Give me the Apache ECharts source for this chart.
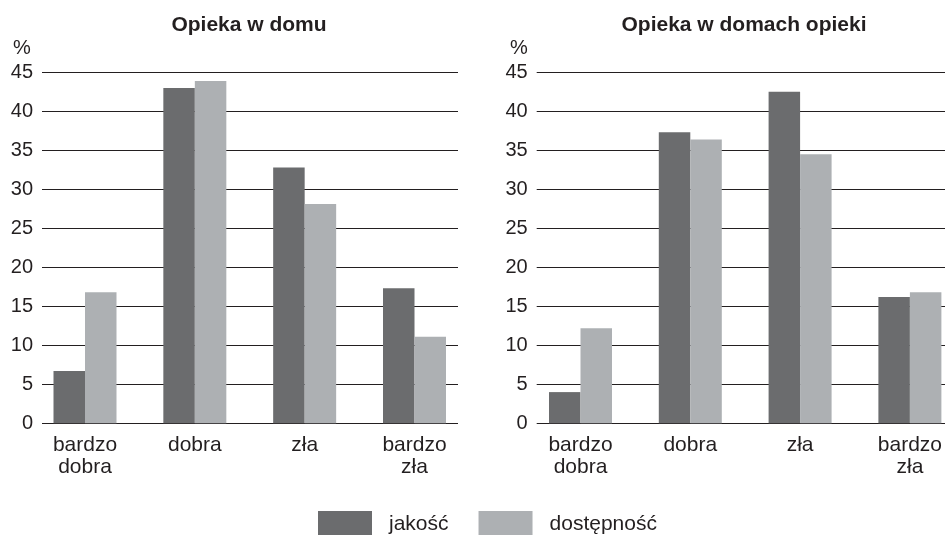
<!DOCTYPE html>
<html>
<head>
<meta charset="utf-8">
<script src="https://cdn.jsdelivr.net/npm/echarts@6/dist/echarts.min.js"></script>
<style>html,body{margin:0;padding:0;background:#fff;}#c{width:945px;height:535px;}</style>
</head>
<body>
<div id="c"></div>
<script>
const categories = ['bardzo\ndobra', 'dobra', 'zła', 'bardzo\nzła'];
const titles = ['Opieka w domu', 'Opieka w domach opieki'];
const seriesNames = ['jakość', 'dostępność'];
const homeQuality = [6.7, 43.0, 32.8, 17.3];
const homeAccess = [16.8, 43.9, 28.1, 11.1];
const careQuality = [4.0, 37.3, 42.5, 16.2];
const careAccess = [12.2, 36.4, 34.5, 16.8];
const yMin = 0, yMax = 45, yStep = 5;

const dark = '#6b6c6e', light = '#adb0b3', ink = '#231f20';
const font = 'Liberation Sans, Arial, sans-serif';

const chart = echarts.init(document.getElementById('c'), null, {renderer: 'canvas'});

const gTop = 72.3, gHeight = 351;
const grids = [
  {left: 42, top: gTop, width: 416, height: gHeight},
  {left: 85, top: gTop, width: 329.5, height: gHeight},
  {left: 536.7, top: gTop, width: 408.3, height: gHeight},
  {left: 580.5, top: gTop, width: 329.5, height: gHeight}
];

function axisGridY(gi) {
  return {
    gridIndex: gi, type: 'value', min: yMin, max: yMax, interval: yStep,
    axisLine: {show: false}, axisTick: {show: false},
    axisLabel: {color: ink, fontSize: 20, fontFamily: font, margin: 9},
    splitLine: {show: true, lineStyle: {color: ink, width: 1}}
  };
}
function hiddenY(gi) {
  return {gridIndex: gi, type: 'value', min: yMin, max: yMax, interval: yStep, show: false, splitLine: {show: false}};
}
function hiddenX(gi) {
  return {gridIndex: gi, type: 'category', data: categories, show: false};
}
function catX(gi) {
  return {
    gridIndex: gi, type: 'category', data: categories, boundaryGap: false,
    axisLine: {show: false}, axisTick: {show: false}, splitLine: {show: false},
    axisLabel: {color: ink, fontSize: 21, fontFamily: font, margin: 11, lineHeight: 22, interval: 0}
  };
}
function bar(name, data, color, xi, yi) {
  return {
    name: name, type: 'bar', data: data, xAxisIndex: xi, yAxisIndex: yi, clip: false,
    barWidth: 31.5, barGap: '0%', itemStyle: {color: color}, silent: true, animation: false
  };
}

chart.setOption({
  animation: false,
  backgroundColor: '#fff',
  title: [
    {text: titles[0], left: 244, top: 10, textAlign: 'center', textStyle: {fontSize: 21, fontWeight: 'bold', color: ink, fontFamily: font}},
    {text: titles[1], left: 739, top: 10, textAlign: 'center', textStyle: {fontSize: 21, fontWeight: 'bold', color: ink, fontFamily: font}},
    {text: '%', left: 8, top: 33, textStyle: {fontSize: 20, fontWeight: 'normal', color: ink, fontFamily: font}},
    {text: '%', left: 505, top: 33, textStyle: {fontSize: 20, fontWeight: 'normal', color: ink, fontFamily: font}}
  ],
  legend: {
    data: seriesNames, left: 318, top: 511, icon: 'rect', padding: 0,
    itemWidth: 54, itemHeight: 26, itemGap: 30,
    textStyle: {color: ink, fontSize: 21, fontFamily: font, padding: [0, 0, 0, 12]}
  },
  grid: grids,
  xAxis: [hiddenX(0), catX(1), hiddenX(2), catX(3)],
  yAxis: [axisGridY(0), hiddenY(1), axisGridY(2), hiddenY(3)],
  series: [
    bar(seriesNames[0], homeQuality, dark, 1, 1),
    bar(seriesNames[1], homeAccess, light, 1, 1),
    bar(seriesNames[0], careQuality, dark, 3, 3),
    bar(seriesNames[1], careAccess, light, 3, 3)
  ]
});
</script>
</body>
</html>
